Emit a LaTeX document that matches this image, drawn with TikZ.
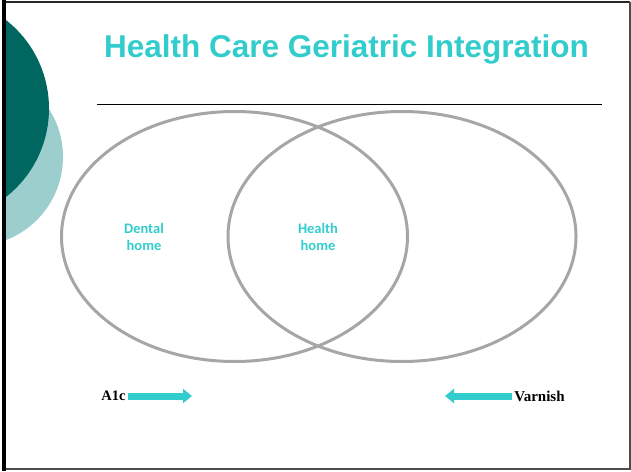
\documentclass[tikz,border=0pt]{standalone}
\usepackage{fontspec}
\setmainfont{Liberation Serif}
\newfontfamily\titlefont{Liberation Sans}
\newfontfamily\labelfont{Carlito}
\usetikzlibrary{arrows.meta}

\definecolor{slideteal}{RGB}{51,204,204}
\definecolor{darkteal}{RGB}{0,102,96}
\definecolor{lightteal}{RGB}{156,206,206}
\definecolor{ringgray}{RGB}{166,166,166}

\tikzset{
  ring/.style={ringgray,line width=3pt},
  homelabel/.style={text=slideteal,align=center,font=\labelfont\bfseries\fontsize{14.5}{17}\selectfont},
  sidelabel/.style={font=\bfseries\fontsize{14.5}{17}\selectfont,inner sep=2pt},
  blockarrow/.style={slideteal,line width=7pt,-{Triangle[width=14pt,length=9pt]}}
}

\begin{document}
\begin{tikzpicture}[x=1pt,y=-1pt]
\useasboundingbox (0,0) rectangle (631,471);

% Decorative circles on the left edge
\begin{scope}
  \clip (4,0) rectangle (631,471);
  \fill[lightteal] (-26,157) circle (89);
  \fill[darkteal] (-63.5,108.5) circle (112.5);
\end{scope}

% Slide frame
\draw[black!85,line width=2pt] (4,1.5) -- (629.5,1.5);
\draw[gray!60!black,line width=2pt] (629.5,1.5) -- (629.5,469) -- (4,469);
\draw[black,line width=3.5pt] (3.75,0) -- (3.75,471);

% Title & rule
\node[text=slideteal,font=\titlefont\bfseries\fontsize{31.5}{36}\selectfont] (title) at (346.5,49) {Health Care Geriatric Integration};
\draw[black,line width=0.8pt] (97,104.5) -- (602,104.5);

% The two overlapping rings
\draw[ring] (234.5,236.5) ellipse [x radius=173, y radius=125];
\draw[ring] (402,236.5) ellipse [x radius=174, y radius=125];

% Ring labels
\node[homelabel] (dental) at (144,237) {Dental\\home};
\node[homelabel] (health) at (318,237) {Health\\home};

% Arrows at the bottom
\node[sidelabel] (a1c) at (113.5,396) {A1c};
\coordinate (a1ctip) at (192,396);
\draw[blockarrow] (a1c.east) -- (a1ctip);

\node[sidelabel,font=\bfseries\fontsize{15}{17}\selectfont] (varnish) at (539.5,396) {Varnish};
\coordinate (varnishtip) at (445,396);
\draw[blockarrow] (varnish.west) -- (varnishtip);

\end{tikzpicture}
\end{document}
